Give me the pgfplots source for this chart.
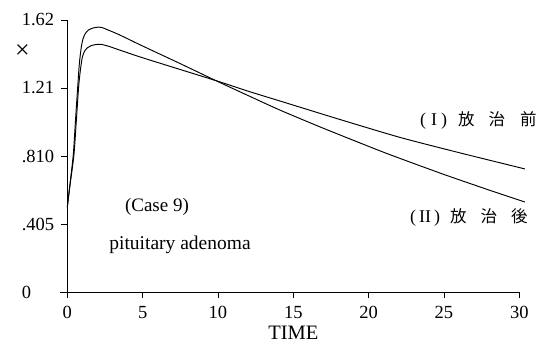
\documentclass[border=0pt]{standalone}
\usepackage{fontspec}
\setmainfont{Liberation Serif}
\newfontfamily\cjk{Noto Sans CJK JP}
\usepackage{pgfplots}
\pgfplotsset{compat=1.18}
\begin{document}
\begin{tikzpicture}
\begin{axis}[name=ax, scale only axis, width=452pt, height=272pt,
  xmin=0, xmax=30, ymin=0, ymax=1.62,
  axis x line=bottom, axis y line=left,
  axis line style={-, line width=0.6pt},
  clip=false,
  xtick={0,5,10,15,20,25,30},
  ytick={0,0.405,0.81,1.215,1.62},
  yticklabels={0,.405,.810,1.21,1.62},
  tick align=outside, major tick length=6pt,
  tick style={black, line width=0.6pt},
  ticklabel style={font=\fontsize{18.5}{18.5}\selectfont},
  /pgf/number format/assume math mode=true,
  yticklabel style={text width=38pt, align=left, xshift=2pt},
  xticklabel style={yshift=-5pt},
  xlabel={TIME},
  xlabel style={font=\fontsize{20.5}{20.5}\selectfont, at={(axis description cs:0.5,-0.15)}, anchor=center},
]
\draw[line width=0.6pt] (axis cs:-0.47,0) -- (axis cs:0,0);
% (II) after radiotherapy: higher peak, steeper decline
\addplot[black, line width=0.95pt, smooth, tension=0.4] coordinates {
(0,0.506) (0.2,0.66) (0.4,0.82) (0.55,1.03) (0.69,1.22) (0.8,1.36) (0.93,1.46)
(1.05,1.51) (1.2,1.54) (1.4,1.56) (1.7,1.572) (2.0,1.577) (2.3,1.575) (2.8,1.557)
(3.5,1.53) (5,1.465) (7.5,1.36) (10,1.253) (12,1.17) (14.1,1.084) (17,0.975)
(20.6,0.846) (22.07,0.796) (25,0.70) (28,0.607) (30.37,0.536)};
% (I) before radiotherapy
\addplot[black, line width=0.95pt, smooth, tension=0.4] coordinates {
(0,0.506) (0.2,0.65) (0.44,0.816) (0.6,1.02) (0.75,1.22) (0.88,1.33) (1.0,1.40)
(1.15,1.435) (1.3,1.452) (1.6,1.468) (2.0,1.475) (2.3,1.474) (2.8,1.462) (3.5,1.44)
(5,1.395) (7.5,1.325) (10,1.255) (12,1.196) (14.1,1.138) (18,1.03) (22.07,0.921)
(26,0.83) (30.37,0.733)};
\node[font=\fontsize{19}{19}\selectfont] at (axis cs:5.95,0.506) {(Case 9)};
\node[font=\fontsize{19.5}{19.5}\selectfont] at (axis cs:7.48,0.280) {pituitary adenoma};
\node[font=\fontsize{26}{26}\selectfont] at (axis cs:-2.97,1.435) {×};
\node[anchor=east, font=\fontsize{18}{18}\selectfont, inner sep=0pt] at (axis cs:31.16,1.024)
  {(\hspace{5pt}I\hspace{4pt})\hspace{11pt}{\cjk\fontsize{16.5}{16.5}\selectfont 放\hspace{14pt}治\hspace{15pt}前}};
\node[anchor=east, font=\fontsize{18}{18}\selectfont, inner sep=0pt] at (axis cs:30.57,0.441)
  {(\hspace{3pt}II\hspace{3pt})\hspace{10pt}{\cjk\fontsize{16.5}{16.5}\selectfont 放\hspace{14pt}治\hspace{14pt}後}};
\end{axis}
\pgfresetboundingbox
\path[use as bounding box] ([shift={(-67.3pt,-59pt)}]ax.south west) rectangle ([shift={(477.7pt,292pt)}]ax.south west);
\end{tikzpicture}
\end{document}
